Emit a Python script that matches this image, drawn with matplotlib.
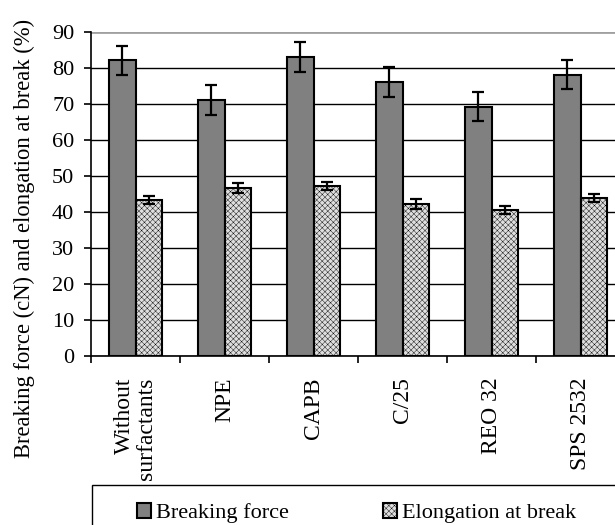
import numpy as np
import matplotlib
matplotlib.use("Agg")
import matplotlib.pyplot as plt
from matplotlib.patches import Rectangle

plt.rcParams['font.family'] = ['Liberation Serif', 'DejaVu Serif']
plt.rcParams['hatch.linewidth'] = 0.3
plt.rcParams['hatch.color'] = '#bcbcbc'

categories = ["Without\nsurfactants", "NPE", "CAPB", "C/25", "REO 32", "SPS 2532"]
breaking_force = [82.2, 71.2, 83.2, 76.1, 69.3, 78.2]
breaking_err = [4.0, 4.2, 4.1, 4.2, 4.0, 4.0]
elongation = [43.3, 46.7, 47.2, 42.3, 40.6, 43.9]
elongation_err = [1.1, 1.4, 1.1, 1.4, 1.2, 1.1]

fig = plt.figure(figsize=(6.15, 5.25), dpi=100)
# plot area runs past the right edge, like the cropped original
ax = fig.add_axes([91 / 615, 168.7 / 525, 534 / 615, 324 / 525])

x = np.arange(len(categories))
w = 0.298
err_kw = dict(ecolor='black', elinewidth=1.6, capsize=4, capthick=1.6)

ax.bar(x - w / 2, breaking_force, w, color='#808080', edgecolor='black',
       linewidth=1.5, yerr=breaking_err, error_kw=err_kw, label='Breaking force', zorder=3)
ax.bar(x + w / 2, elongation, w, color='#dedede', edgecolor='black', hatch='xxxxxx',
       linewidth=1.5, yerr=elongation_err, error_kw=err_kw, label='Elongation at break', zorder=3)

ax.set_xlim(-0.5, len(categories) - 0.5)
ax.set_ylim(0, 90)
ax.set_yticks(np.arange(0, 91, 10))
ax.yaxis.grid(True, color='black', linewidth=1.0, zorder=0)
ax.set_axisbelow(True)

for s in ['right', 'top']:
    ax.spines[s].set_visible(False)
ax.spines['left'].set_linewidth(1.2)
ax.spines['bottom'].set_linewidth(1.2)
ax.axhline(90, color='#a0a0a0', linewidth=1.8, zorder=1)

ax.set_xticks(np.arange(-0.5, len(categories) + 0.5, 1))
ax.set_xticklabels([])
ax.set_xticks(x, minor=True)
ax.set_xticklabels(categories, minor=True, rotation=90, fontsize=17,
                   linespacing=1.05, multialignment='right')
ax.tick_params(axis='x', which='minor', length=0, pad=15)
ax.tick_params(axis='x', which='major', length=5, width=1.2)
ax.tick_params(axis='y', length=5, width=1.2, labelsize=16, pad=7)

# y label sits lower than the axes centre in the original
fig.text(24 / 615, 1 - 238 / 525, "Breaking force (cN) and elongation at break (%)",
         rotation=90, ha='center', va='center', fontsize=16.3)

# legend box, clipped by the figure edge
fig.patches.append(Rectangle((92 / 615, -0.05), 0.9, (525 - 485) / 525 + 0.05,
                             transform=fig.transFigure, facecolor='white',
                             edgecolor='black', linewidth=1.0))
handles, labels = ax.get_legend_handles_labels()
fig.legend(handles, labels, ncol=2, frameon=False, fontsize=16,
           loc='center left', bbox_to_anchor=(137 / 615, 1 - 513 / 525),
           handlelength=0.64, handleheight=0.64, handletextpad=0.2,
           columnspacing=4.25, borderaxespad=0, borderpad=0)

fig.savefig("out.png", dpi=100)
